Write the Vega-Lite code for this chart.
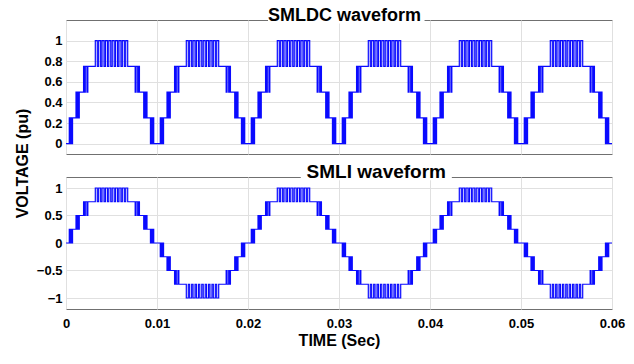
{
"$schema":"https://vega.github.io/schema/vega-lite/v6.json",
"background":"white",
"padding":{"left":14,"top":6,"right":8,"bottom":6},
"title":{"text":"VOLTAGE (pu)","orient":"left","anchor":"middle","font":"Liberation Sans","fontSize":16,"fontWeight":"bold","color":"black","offset":5,"dx":14},
"config":{"font":"Liberation Sans","view":{"stroke":"#707070","strokeWidth":1},
"axis":{"labelFont":"Liberation Sans","labelFontSize":13,"labelFontWeight":"bold","labelColor":"black","labelOverlap":false,"labelFlush":false,"gridColor":"#e0e0e0","gridWidth":1,"domain":false,"ticks":false,"labelPadding":4,"titleFont":"Liberation Sans","titleFontSize":16,"titleFontWeight":"bold","titleColor":"black"}},
"data":{"values":[
{"t":0,"a":0,"b":0},
{"t":0.00036,"a":0.25,"b":0.25},{"t":0.00047,"a":0,"b":0},{"t":0.00057,"a":0.25,"b":0.25},{"t":0.00064,"a":0,"b":0},{"t":0.00072,"a":0.25,"b":0.25},
{"t":0.00110,"a":0.5,"b":0.5},{"t":0.00120,"a":0.25,"b":0.25},{"t":0.00130,"a":0.5,"b":0.5},{"t":0.00136,"a":0.25,"b":0.25},{"t":0.00146,"a":0.5,"b":0.5},
{"t":0.00193,"a":0.75,"b":0.75},{"t":0.00205,"a":0.5,"b":0.5},{"t":0.00212,"a":0.75,"b":0.75},{"t":0.00230,"a":0.5,"b":0.5},{"t":0.00240,"a":0.75,"b":0.75},
{"t":0.00322,"a":1,"b":1},{"t":0.00344,"a":0.75,"b":0.75},{"t":0.00359,"a":1,"b":1},{"t":0.00381,"a":0.75,"b":0.75},{"t":0.00396,"a":1,"b":1},{"t":0.00418,"a":0.75,"b":0.75},{"t":0.00433,"a":1,"b":1},{"t":0.00455,"a":0.75,"b":0.75},{"t":0.00470,"a":1,"b":1},{"t":0.00492,"a":0.75,"b":0.75},
{"t":0.00508,"a":1,"b":1},{"t":0.00530,"a":0.75,"b":0.75},{"t":0.00545,"a":1,"b":1},{"t":0.00567,"a":0.75,"b":0.75},{"t":0.00582,"a":1,"b":1},{"t":0.00604,"a":0.75,"b":0.75},{"t":0.00619,"a":1,"b":1},{"t":0.00641,"a":0.75,"b":0.75},{"t":0.00656,"a":1,"b":1},{"t":0.00678,"a":0.75,"b":0.75},
{"t":0.00760,"a":0.5,"b":0.5},{"t":0.00770,"a":0.75,"b":0.75},{"t":0.00788,"a":0.5,"b":0.5},{"t":0.00795,"a":0.75,"b":0.75},{"t":0.00807,"a":0.5,"b":0.5},
{"t":0.00854,"a":0.25,"b":0.25},{"t":0.00864,"a":0.5,"b":0.5},{"t":0.00870,"a":0.25,"b":0.25},{"t":0.00880,"a":0.5,"b":0.5},{"t":0.00890,"a":0.25,"b":0.25},
{"t":0.00928,"a":0,"b":0},{"t":0.00936,"a":0.25,"b":0.25},{"t":0.00943,"a":0,"b":0},{"t":0.00953,"a":0.25,"b":0.25},{"t":0.00964,"a":0,"b":0},

{"t":0.01036,"a":0.25,"b":-0.25},{"t":0.01047,"a":0,"b":0},{"t":0.01057,"a":0.25,"b":-0.25},{"t":0.01064,"a":0,"b":0},{"t":0.01072,"a":0.25,"b":-0.25},
{"t":0.01110,"a":0.5,"b":-0.5},{"t":0.01120,"a":0.25,"b":-0.25},{"t":0.01130,"a":0.5,"b":-0.5},{"t":0.01136,"a":0.25,"b":-0.25},{"t":0.01146,"a":0.5,"b":-0.5},
{"t":0.01193,"a":0.75,"b":-0.75},{"t":0.01205,"a":0.5,"b":-0.5},{"t":0.01212,"a":0.75,"b":-0.75},{"t":0.01230,"a":0.5,"b":-0.5},{"t":0.01240,"a":0.75,"b":-0.75},
{"t":0.01322,"a":1,"b":-1},{"t":0.01344,"a":0.75,"b":-0.75},{"t":0.01359,"a":1,"b":-1},{"t":0.01381,"a":0.75,"b":-0.75},{"t":0.01396,"a":1,"b":-1},{"t":0.01418,"a":0.75,"b":-0.75},{"t":0.01433,"a":1,"b":-1},{"t":0.01455,"a":0.75,"b":-0.75},{"t":0.01470,"a":1,"b":-1},{"t":0.01492,"a":0.75,"b":-0.75},
{"t":0.01508,"a":1,"b":-1},{"t":0.01530,"a":0.75,"b":-0.75},{"t":0.01545,"a":1,"b":-1},{"t":0.01567,"a":0.75,"b":-0.75},{"t":0.01582,"a":1,"b":-1},{"t":0.01604,"a":0.75,"b":-0.75},{"t":0.01619,"a":1,"b":-1},{"t":0.01641,"a":0.75,"b":-0.75},{"t":0.01656,"a":1,"b":-1},{"t":0.01678,"a":0.75,"b":-0.75},
{"t":0.01760,"a":0.5,"b":-0.5},{"t":0.01770,"a":0.75,"b":-0.75},{"t":0.01788,"a":0.5,"b":-0.5},{"t":0.01795,"a":0.75,"b":-0.75},{"t":0.01807,"a":0.5,"b":-0.5},
{"t":0.01854,"a":0.25,"b":-0.25},{"t":0.01864,"a":0.5,"b":-0.5},{"t":0.01870,"a":0.25,"b":-0.25},{"t":0.01880,"a":0.5,"b":-0.5},{"t":0.01890,"a":0.25,"b":-0.25},
{"t":0.01928,"a":0,"b":0},{"t":0.01936,"a":0.25,"b":-0.25},{"t":0.01943,"a":0,"b":0},{"t":0.01953,"a":0.25,"b":-0.25},{"t":0.01964,"a":0,"b":0},

{"t":0.02036,"a":0.25,"b":0.25},{"t":0.02047,"a":0,"b":0},{"t":0.02057,"a":0.25,"b":0.25},{"t":0.02064,"a":0,"b":0},{"t":0.02072,"a":0.25,"b":0.25},
{"t":0.02110,"a":0.5,"b":0.5},{"t":0.02120,"a":0.25,"b":0.25},{"t":0.02130,"a":0.5,"b":0.5},{"t":0.02136,"a":0.25,"b":0.25},{"t":0.02146,"a":0.5,"b":0.5},
{"t":0.02193,"a":0.75,"b":0.75},{"t":0.02205,"a":0.5,"b":0.5},{"t":0.02212,"a":0.75,"b":0.75},{"t":0.02230,"a":0.5,"b":0.5},{"t":0.02240,"a":0.75,"b":0.75},
{"t":0.02322,"a":1,"b":1},{"t":0.02344,"a":0.75,"b":0.75},{"t":0.02359,"a":1,"b":1},{"t":0.02381,"a":0.75,"b":0.75},{"t":0.02396,"a":1,"b":1},{"t":0.02418,"a":0.75,"b":0.75},{"t":0.02433,"a":1,"b":1},{"t":0.02455,"a":0.75,"b":0.75},{"t":0.02470,"a":1,"b":1},{"t":0.02492,"a":0.75,"b":0.75},
{"t":0.02508,"a":1,"b":1},{"t":0.02530,"a":0.75,"b":0.75},{"t":0.02545,"a":1,"b":1},{"t":0.02567,"a":0.75,"b":0.75},{"t":0.02582,"a":1,"b":1},{"t":0.02604,"a":0.75,"b":0.75},{"t":0.02619,"a":1,"b":1},{"t":0.02641,"a":0.75,"b":0.75},{"t":0.02656,"a":1,"b":1},{"t":0.02678,"a":0.75,"b":0.75},
{"t":0.02760,"a":0.5,"b":0.5},{"t":0.02770,"a":0.75,"b":0.75},{"t":0.02788,"a":0.5,"b":0.5},{"t":0.02795,"a":0.75,"b":0.75},{"t":0.02807,"a":0.5,"b":0.5},
{"t":0.02854,"a":0.25,"b":0.25},{"t":0.02864,"a":0.5,"b":0.5},{"t":0.02870,"a":0.25,"b":0.25},{"t":0.02880,"a":0.5,"b":0.5},{"t":0.02890,"a":0.25,"b":0.25},
{"t":0.02928,"a":0,"b":0},{"t":0.02936,"a":0.25,"b":0.25},{"t":0.02943,"a":0,"b":0},{"t":0.02953,"a":0.25,"b":0.25},{"t":0.02964,"a":0,"b":0},

{"t":0.03036,"a":0.25,"b":-0.25},{"t":0.03047,"a":0,"b":0},{"t":0.03057,"a":0.25,"b":-0.25},{"t":0.03064,"a":0,"b":0},{"t":0.03072,"a":0.25,"b":-0.25},
{"t":0.03110,"a":0.5,"b":-0.5},{"t":0.03120,"a":0.25,"b":-0.25},{"t":0.03130,"a":0.5,"b":-0.5},{"t":0.03136,"a":0.25,"b":-0.25},{"t":0.03146,"a":0.5,"b":-0.5},
{"t":0.03193,"a":0.75,"b":-0.75},{"t":0.03205,"a":0.5,"b":-0.5},{"t":0.03212,"a":0.75,"b":-0.75},{"t":0.03230,"a":0.5,"b":-0.5},{"t":0.03240,"a":0.75,"b":-0.75},
{"t":0.03322,"a":1,"b":-1},{"t":0.03344,"a":0.75,"b":-0.75},{"t":0.03359,"a":1,"b":-1},{"t":0.03381,"a":0.75,"b":-0.75},{"t":0.03396,"a":1,"b":-1},{"t":0.03418,"a":0.75,"b":-0.75},{"t":0.03433,"a":1,"b":-1},{"t":0.03455,"a":0.75,"b":-0.75},{"t":0.03470,"a":1,"b":-1},{"t":0.03492,"a":0.75,"b":-0.75},
{"t":0.03508,"a":1,"b":-1},{"t":0.03530,"a":0.75,"b":-0.75},{"t":0.03545,"a":1,"b":-1},{"t":0.03567,"a":0.75,"b":-0.75},{"t":0.03582,"a":1,"b":-1},{"t":0.03604,"a":0.75,"b":-0.75},{"t":0.03619,"a":1,"b":-1},{"t":0.03641,"a":0.75,"b":-0.75},{"t":0.03656,"a":1,"b":-1},{"t":0.03678,"a":0.75,"b":-0.75},
{"t":0.03760,"a":0.5,"b":-0.5},{"t":0.03770,"a":0.75,"b":-0.75},{"t":0.03788,"a":0.5,"b":-0.5},{"t":0.03795,"a":0.75,"b":-0.75},{"t":0.03807,"a":0.5,"b":-0.5},
{"t":0.03854,"a":0.25,"b":-0.25},{"t":0.03864,"a":0.5,"b":-0.5},{"t":0.03870,"a":0.25,"b":-0.25},{"t":0.03880,"a":0.5,"b":-0.5},{"t":0.03890,"a":0.25,"b":-0.25},
{"t":0.03928,"a":0,"b":0},{"t":0.03936,"a":0.25,"b":-0.25},{"t":0.03943,"a":0,"b":0},{"t":0.03953,"a":0.25,"b":-0.25},{"t":0.03964,"a":0,"b":0},

{"t":0.04036,"a":0.25,"b":0.25},{"t":0.04047,"a":0,"b":0},{"t":0.04057,"a":0.25,"b":0.25},{"t":0.04064,"a":0,"b":0},{"t":0.04072,"a":0.25,"b":0.25},
{"t":0.04110,"a":0.5,"b":0.5},{"t":0.04120,"a":0.25,"b":0.25},{"t":0.04130,"a":0.5,"b":0.5},{"t":0.04136,"a":0.25,"b":0.25},{"t":0.04146,"a":0.5,"b":0.5},
{"t":0.04193,"a":0.75,"b":0.75},{"t":0.04205,"a":0.5,"b":0.5},{"t":0.04212,"a":0.75,"b":0.75},{"t":0.04230,"a":0.5,"b":0.5},{"t":0.04240,"a":0.75,"b":0.75},
{"t":0.04322,"a":1,"b":1},{"t":0.04344,"a":0.75,"b":0.75},{"t":0.04359,"a":1,"b":1},{"t":0.04381,"a":0.75,"b":0.75},{"t":0.04396,"a":1,"b":1},{"t":0.04418,"a":0.75,"b":0.75},{"t":0.04433,"a":1,"b":1},{"t":0.04455,"a":0.75,"b":0.75},{"t":0.04470,"a":1,"b":1},{"t":0.04492,"a":0.75,"b":0.75},
{"t":0.04508,"a":1,"b":1},{"t":0.04530,"a":0.75,"b":0.75},{"t":0.04545,"a":1,"b":1},{"t":0.04567,"a":0.75,"b":0.75},{"t":0.04582,"a":1,"b":1},{"t":0.04604,"a":0.75,"b":0.75},{"t":0.04619,"a":1,"b":1},{"t":0.04641,"a":0.75,"b":0.75},{"t":0.04656,"a":1,"b":1},{"t":0.04678,"a":0.75,"b":0.75},
{"t":0.04760,"a":0.5,"b":0.5},{"t":0.04770,"a":0.75,"b":0.75},{"t":0.04788,"a":0.5,"b":0.5},{"t":0.04795,"a":0.75,"b":0.75},{"t":0.04807,"a":0.5,"b":0.5},
{"t":0.04854,"a":0.25,"b":0.25},{"t":0.04864,"a":0.5,"b":0.5},{"t":0.04870,"a":0.25,"b":0.25},{"t":0.04880,"a":0.5,"b":0.5},{"t":0.04890,"a":0.25,"b":0.25},
{"t":0.04928,"a":0,"b":0},{"t":0.04936,"a":0.25,"b":0.25},{"t":0.04943,"a":0,"b":0},{"t":0.04953,"a":0.25,"b":0.25},{"t":0.04964,"a":0,"b":0},

{"t":0.05036,"a":0.25,"b":-0.25},{"t":0.05047,"a":0,"b":0},{"t":0.05057,"a":0.25,"b":-0.25},{"t":0.05064,"a":0,"b":0},{"t":0.05072,"a":0.25,"b":-0.25},
{"t":0.05110,"a":0.5,"b":-0.5},{"t":0.05120,"a":0.25,"b":-0.25},{"t":0.05130,"a":0.5,"b":-0.5},{"t":0.05136,"a":0.25,"b":-0.25},{"t":0.05146,"a":0.5,"b":-0.5},
{"t":0.05193,"a":0.75,"b":-0.75},{"t":0.05205,"a":0.5,"b":-0.5},{"t":0.05212,"a":0.75,"b":-0.75},{"t":0.05230,"a":0.5,"b":-0.5},{"t":0.05240,"a":0.75,"b":-0.75},
{"t":0.05322,"a":1,"b":-1},{"t":0.05344,"a":0.75,"b":-0.75},{"t":0.05359,"a":1,"b":-1},{"t":0.05381,"a":0.75,"b":-0.75},{"t":0.05396,"a":1,"b":-1},{"t":0.05418,"a":0.75,"b":-0.75},{"t":0.05433,"a":1,"b":-1},{"t":0.05455,"a":0.75,"b":-0.75},{"t":0.05470,"a":1,"b":-1},{"t":0.05492,"a":0.75,"b":-0.75},
{"t":0.05508,"a":1,"b":-1},{"t":0.05530,"a":0.75,"b":-0.75},{"t":0.05545,"a":1,"b":-1},{"t":0.05567,"a":0.75,"b":-0.75},{"t":0.05582,"a":1,"b":-1},{"t":0.05604,"a":0.75,"b":-0.75},{"t":0.05619,"a":1,"b":-1},{"t":0.05641,"a":0.75,"b":-0.75},{"t":0.05656,"a":1,"b":-1},{"t":0.05678,"a":0.75,"b":-0.75},
{"t":0.05760,"a":0.5,"b":-0.5},{"t":0.05770,"a":0.75,"b":-0.75},{"t":0.05788,"a":0.5,"b":-0.5},{"t":0.05795,"a":0.75,"b":-0.75},{"t":0.05807,"a":0.5,"b":-0.5},
{"t":0.05854,"a":0.25,"b":-0.25},{"t":0.05864,"a":0.5,"b":-0.5},{"t":0.05870,"a":0.25,"b":-0.25},{"t":0.05880,"a":0.5,"b":-0.5},{"t":0.05890,"a":0.25,"b":-0.25},
{"t":0.05928,"a":0,"b":0},{"t":0.05936,"a":0.25,"b":-0.25},{"t":0.05943,"a":0,"b":0},{"t":0.05953,"a":0.25,"b":-0.25},{"t":0.05964,"a":0,"b":0},
{"t":0.06,"a":0,"b":0}
]},
"spacing":7,
"vconcat":[
{"width":546,"height":134,
 "layer":[
  {"mark":{"type":"line","interpolate":"step-after","color":"#0a0aff","strokeWidth":1.2,"clip":true},
   "encoding":{
    "x":{"field":"t","type":"quantitative","scale":{"domain":[0,0.06],"nice":false,"zero":false},"axis":{"values":[0,0.01,0.02,0.03,0.04,0.05,0.06],"labels":false,"title":null}},
    "y":{"field":"a","type":"quantitative","scale":{"domain":[-0.1,1.2],"nice":false},"axis":{"values":[0,0.2,0.4,0.6,0.8,1],"format":"~g","title":null,"labelOverlap":false}}}},
  {"data":{"values":[{}]},"mark":{"type":"rect","color":"white"},
   "encoding":{"x":{"datum":0.0222,"type":"quantitative","axis":{"values":[0,0.01,0.02,0.03,0.04,0.05,0.06],"labels":false,"title":null}},"x2":{"datum":0.0394},
    "y":{"datum":1.165,"type":"quantitative","axis":{"values":[0,0.2,0.4,0.6,0.8,1],"format":"~g","title":null,"labelOverlap":false}},"y2":{"datum":1.235}}},
  {"data":{"values":[{}]},"mark":{"type":"text","text":"SMLDC waveform","font":"Liberation Sans","fontSize":18,"fontWeight":"bold","color":"black","align":"center","baseline":"alphabetic"},
   "encoding":{"x":{"datum":0.0306,"type":"quantitative","axis":{"values":[0,0.01,0.02,0.03,0.04,0.05,0.06],"labels":false,"title":null}},
    "y":{"datum":1.19,"type":"quantitative","axis":{"values":[0,0.2,0.4,0.6,0.8,1],"format":"~g","title":null,"labelOverlap":false}}}}
 ]},
{"width":546,"height":132,
 "layer":[
  {"mark":{"type":"line","interpolate":"step-after","color":"#0a0aff","strokeWidth":1.2,"clip":true},
   "encoding":{
    "x":{"field":"t","type":"quantitative","scale":{"domain":[0,0.06],"nice":false,"zero":false},"axis":{"values":[0,0.01,0.02,0.03,0.04,0.05,0.06],"format":"~g","title":"TIME (Sec)","labelPadding":8,"titlePadding":2,"labelOverlap":false}},
    "y":{"field":"b","type":"quantitative","scale":{"domain":[-1.2,1.2],"nice":false},"axis":{"values":[-1,-0.5,0,0.5,1],"format":"~g","title":null,"labelOverlap":false}}}},
  {"data":{"values":[{}]},"mark":{"type":"rect","color":"white"},
   "encoding":{"x":{"datum":0.0258,"type":"quantitative","axis":{"values":[0,0.01,0.02,0.03,0.04,0.05,0.06],"format":"~g","title":"TIME (Sec)","labelPadding":8,"titlePadding":2,"labelOverlap":false}},"x2":{"datum":0.0424},
    "y":{"datum":1.14,"type":"quantitative","axis":{"values":[-1,-0.5,0,0.5,1],"format":"~g","title":null,"labelOverlap":false}},"y2":{"datum":1.26}}},
  {"data":{"values":[{}]},"mark":{"type":"text","text":"SMLI waveform","font":"Liberation Sans","fontSize":19,"fontWeight":"bold","color":"black","align":"center","baseline":"alphabetic"},
   "encoding":{"x":{"datum":0.0341,"type":"quantitative","axis":{"values":[0,0.01,0.02,0.03,0.04,0.05,0.06],"format":"~g","title":"TIME (Sec)","labelPadding":8,"titlePadding":2,"labelOverlap":false}},
    "y":{"datum":1.18,"type":"quantitative","axis":{"values":[-1,-0.5,0,0.5,1],"format":"~g","title":null,"labelOverlap":false}}}}
 ]}
]
}
